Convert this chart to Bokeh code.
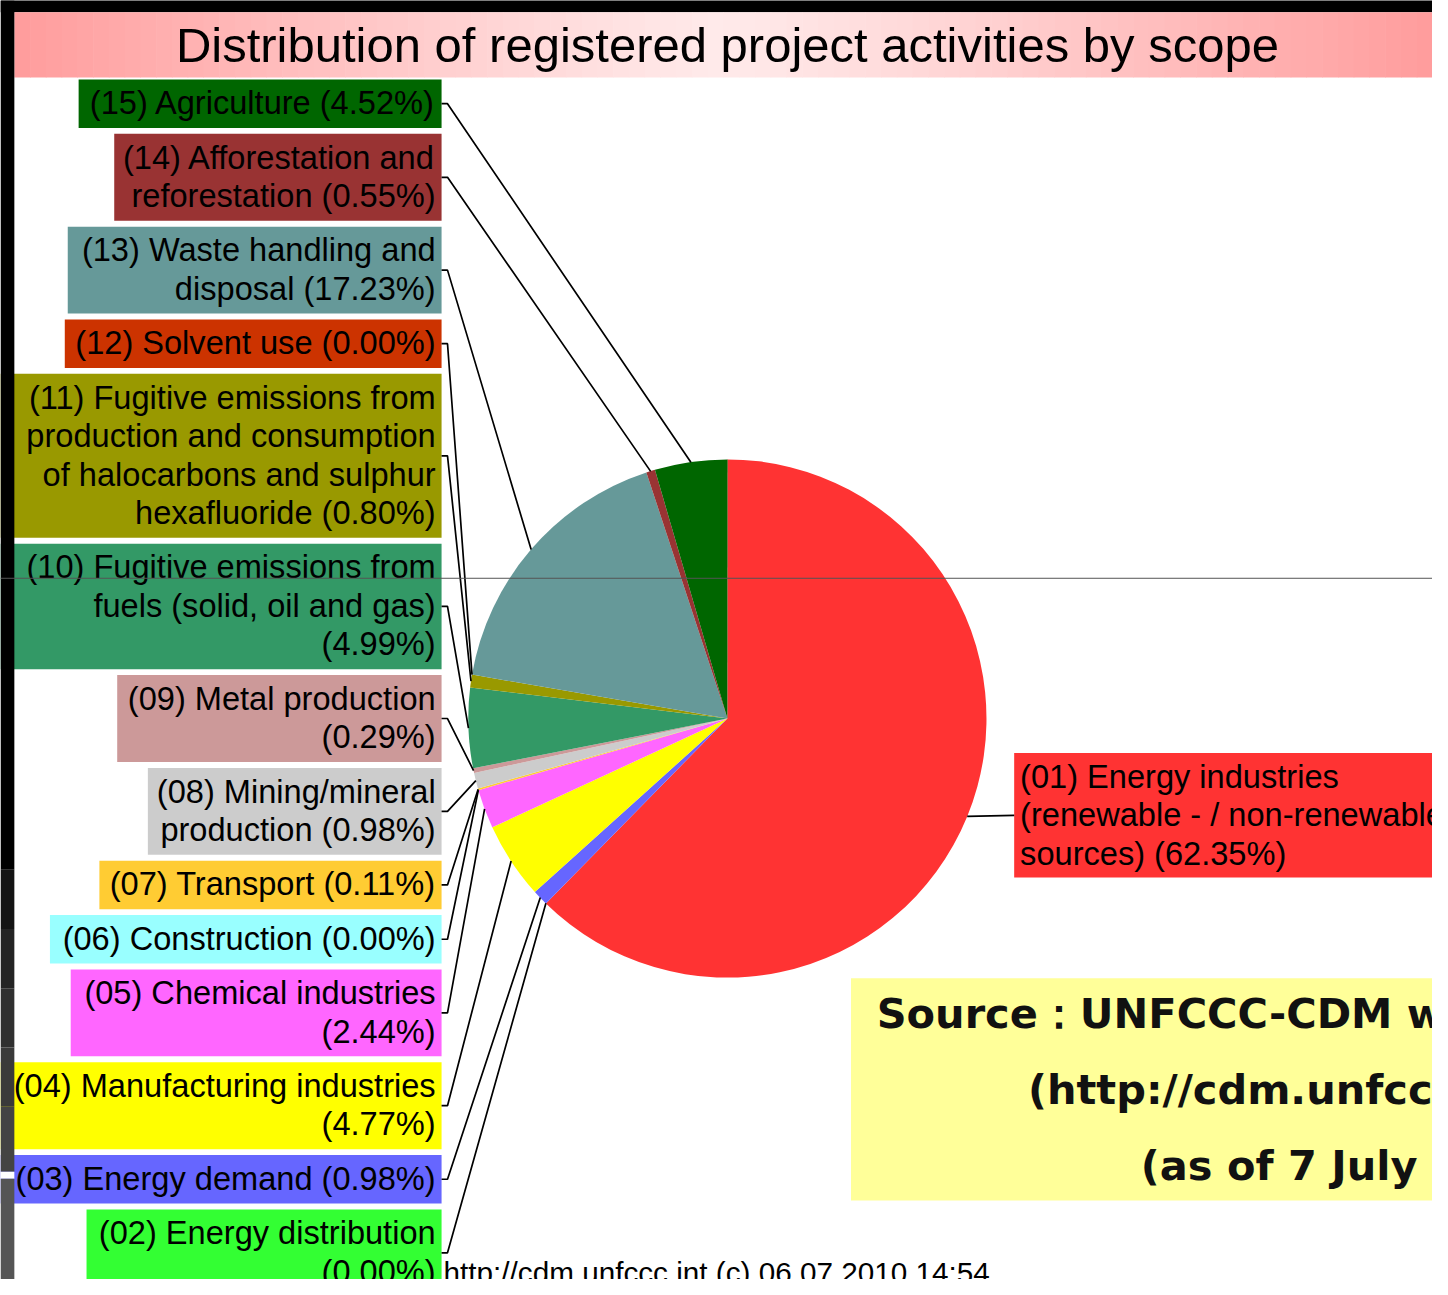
import math
from bokeh.plotting import figure
from bokeh.models import Range1d
from bokeh.embed import file_html
from bokeh.resources import INLINE
from bokeh.core.properties import value

# ---------------- data ----------------
title = "Distribution of registered project activities by scope"
scope_codes = ["01", "02", "03", "04", "05", "06", "07", "08",
               "09", "10", "11", "12", "13", "14", "15"]
shares = [62.35, 0.00, 0.98, 4.77, 2.44, 0.00, 0.11, 0.98,
          0.29, 4.99, 0.80, 0.00, 17.23, 0.55, 4.52]
colors = ["#FF3333", "#33FF33", "#6666FF", "#FFFF00", "#FF66FF", "#99FFFF",
          "#FFCC33", "#CCCCCC", "#CC9999", "#339966", "#999900", "#CC3300",
          "#669999", "#993333", "#006600"]
label_lines = [
    ["(01) Energy industries", "(renewable - / non-renewable", "sources) ({:.2f}%)"],
    ["(02) Energy distribution", "({:.2f}%)"],
    ["(03) Energy demand ({:.2f}%)"],
    ["(04) Manufacturing industries", "({:.2f}%)"],
    ["(05) Chemical industries", "({:.2f}%)"],
    ["(06) Construction ({:.2f}%)"],
    ["(07) Transport ({:.2f}%)"],
    ["(08) Mining/mineral", "production ({:.2f}%)"],
    ["(09) Metal production", "({:.2f}%)"],
    ["(10) Fugitive emissions from", "fuels (solid, oil and gas)", "({:.2f}%)"],
    ["(11) Fugitive emissions from", "production and consumption",
     "of halocarbons and sulphur", "hexafluoride ({:.2f}%)"],
    ["(12) Solvent use ({:.2f}%)"],
    ["(13) Waste handling and", "disposal ({:.2f}%)"],
    ["(14) Afforestation and", "reforestation ({:.2f}%)"],
    ["(15) Agriculture ({:.2f}%)"],
]
source_lines = ["Source\uff1aUNFCCC-CDM website", "(http://cdm.unfccc.int)", "(as of 7 July 2010)"]
footer = "http://cdm.unfccc.int (c) 06.07.2010 14:54"

# ---------------- layout (reference pixel space, y downward) ----------------
W, H = 1448, 1295
FW, FH = W - 16, H - 16
S = FW / W
def Y(v):
    return H - v
def fs(px):
    return "%.1fpx" % (px * S)

CX, CY, R = 735, 727, 262
BOX_RIGHT, TEXT_RIGHT = 446, 440
LINE_H, PAD_TOP, GAP = 39, 23.5, 6
box_left = {15: 79, 14: 115, 13: 68, 12: 65, 11: 0, 10: 0, 9: 118, 8: 149,
            7: 100, 6: 50, 5: 71, 4: 0, 3: 0, 2: 87}
FONT = value("Liberation Sans")

p = figure(width=FW, height=FH, x_range=Range1d(0, W), y_range=Range1d(0, H),
           x_axis_type=None, y_axis_type=None, toolbar_location=None,
           output_backend="svg", min_border=0)
p.grid.visible = False
p.outline_line_color = None
p.background_fill_color = "white"
p.border_fill_color = "white"

# top black band
p.quad(left=[0], right=[W], top=[Y(-10)], bottom=[Y(12)], fill_color="black", line_color=None)

# title gradient bar
N = 90
x0, x1 = 14, W
xs = [x0 + (x1 - x0) * i / N for i in range(N + 1)]
c_mid = (255, 234, 234)
c_end = (255, 156, 156)
grad_cols = []
for i in range(N):
    xm = (xs[i] + xs[i + 1]) / 2
    t = abs(xm - 730) / 716.0
    t = min(1.0, t) ** 1.15
    rgb = tuple(int(round(c_mid[k] + (c_end[k] - c_mid[k]) * t)) for k in range(3))
    grad_cols.append("#%02x%02x%02x" % rgb)
p.quad(left=xs[:-1], right=[x + 0.6 for x in xs[1:]], top=[Y(12)] * N, bottom=[Y(78)] * N,
       fill_color=grad_cols, line_color=None)
p.text(x=[735], y=[Y(45)], text=[title], text_font=FONT, text_font_size=fs(49.5),
       text_align="center", text_baseline="middle", text_color="black")

# pie
cum = 0.0
starts, ends, wcols, mids = [], [], [], []
for s, c in zip(shares, colors):
    a0 = 90 - 360 * cum / 100.0
    a1 = 90 - 360 * (cum + s) / 100.0
    mids.append(90 - 360 * (cum + s / 2) / 100.0)
    if s > 0:
        starts.append(math.radians(a0)); ends.append(math.radians(a1)); wcols.append(c)
    cum += s
p.wedge(x=CX, y=Y(CY), radius=R, start_angle=starts, end_angle=ends, direction="clock",
        fill_color=wcols, line_color=None)

def pie_pt(i):
    a = math.radians(mids[i])
    return CX + R * math.cos(a), CY - R * math.sin(a)

# left labels (15 at top down to 02)
top = 80
qx0, qx1, qt, qb, qc = [], [], [], [], []
tx, ty, tt = [], [], []
lx, ly = [], []
for code in range(15, 1, -1):
    i = code - 1
    lines = [ln.format(shares[i]) if "{" in ln else ln for ln in label_lines[i]]
    n = len(lines)
    h = 10 + LINE_H * n
    qx0.append(box_left[code]); qx1.append(BOX_RIGHT)
    qt.append(Y(top)); qb.append(Y(top + h)); qc.append(colors[i])
    for k, ln in enumerate(lines):
        tx.append(TEXT_RIGHT); ty.append(Y(top + PAD_TOP + LINE_H * k)); tt.append(ln)
    anchor = top + h / 2
    px, py = pie_pt(i)
    lx.append([BOX_RIGHT, BOX_RIGHT + 6, px]); ly.append([Y(anchor), Y(anchor), Y(py)])
    top += h + GAP

p.quad(left=qx0, right=qx1, top=qt, bottom=qb, fill_color=qc, line_color=None)
p.text(x=tx, y=ty, text=tt, text_font=FONT, text_font_size=fs(33), text_align="right",
       text_baseline="middle", text_color="black")

# right label (01)
lines01 = [ln.format(shares[0]) if "{" in ln else ln for ln in label_lines[0]]
rt = 762
rh = 126
p.quad(left=[1025], right=[W + 10], top=[Y(rt)], bottom=[Y(rt + rh)], fill_color=colors[0], line_color=None)
p.text(x=[1031] * 3, y=[Y(rt + PAD_TOP + LINE_H * k) for k in range(3)], text=lines01,
       text_font=FONT, text_font_size=fs(33), text_align="left", text_baseline="middle",
       text_color="black")
px, py = pie_pt(0)
lx.append([px, 1025]); ly.append([Y(py), Y(rt + rh / 2)])

p.multi_line(xs=lx, ys=ly, line_color="black", line_width=1.7)

# source box
p.quad(left=[860], right=[W + 10], top=[Y(990)], bottom=[Y(1215)], fill_color="#FFFF99", line_color=None)
p.text(x=[886, 1039, 1153], y=[Y(1026), Y(1103), Y(1180)], text=source_lines,
       text_font=value("DejaVu Sans"), text_font_style="bold", text_font_size=fs(42),
       text_align="left", text_baseline="middle", text_color="#111111")

# footer
p.text(x=[448], y=[Y(1271)], text=[footer], text_font=FONT, text_font_size=fs(30),
       text_align="left", text_baseline="top", text_color="black")

# left dark strip
strip_y = [0, 880, 940, 1000, 1060, 1120, 1186, 1193, 1300]
strip_c = ["#000000", "#141414", "#242424", "#303030", "#3a3a3a", "#444444", "#ffffff", "#555555"]
p.quad(left=[0] * 8, right=[14] * 8, top=[Y(v) for v in strip_y[:-1]],
       bottom=[Y(v) for v in strip_y[1:]], fill_color=strip_c, line_color=None)

# thin horizontal rule across the slide
p.line(x=[0, W], y=[Y(585), Y(585)], line_color="#555555", line_width=1)

open("out.html", "w").write(file_html(p, INLINE))
